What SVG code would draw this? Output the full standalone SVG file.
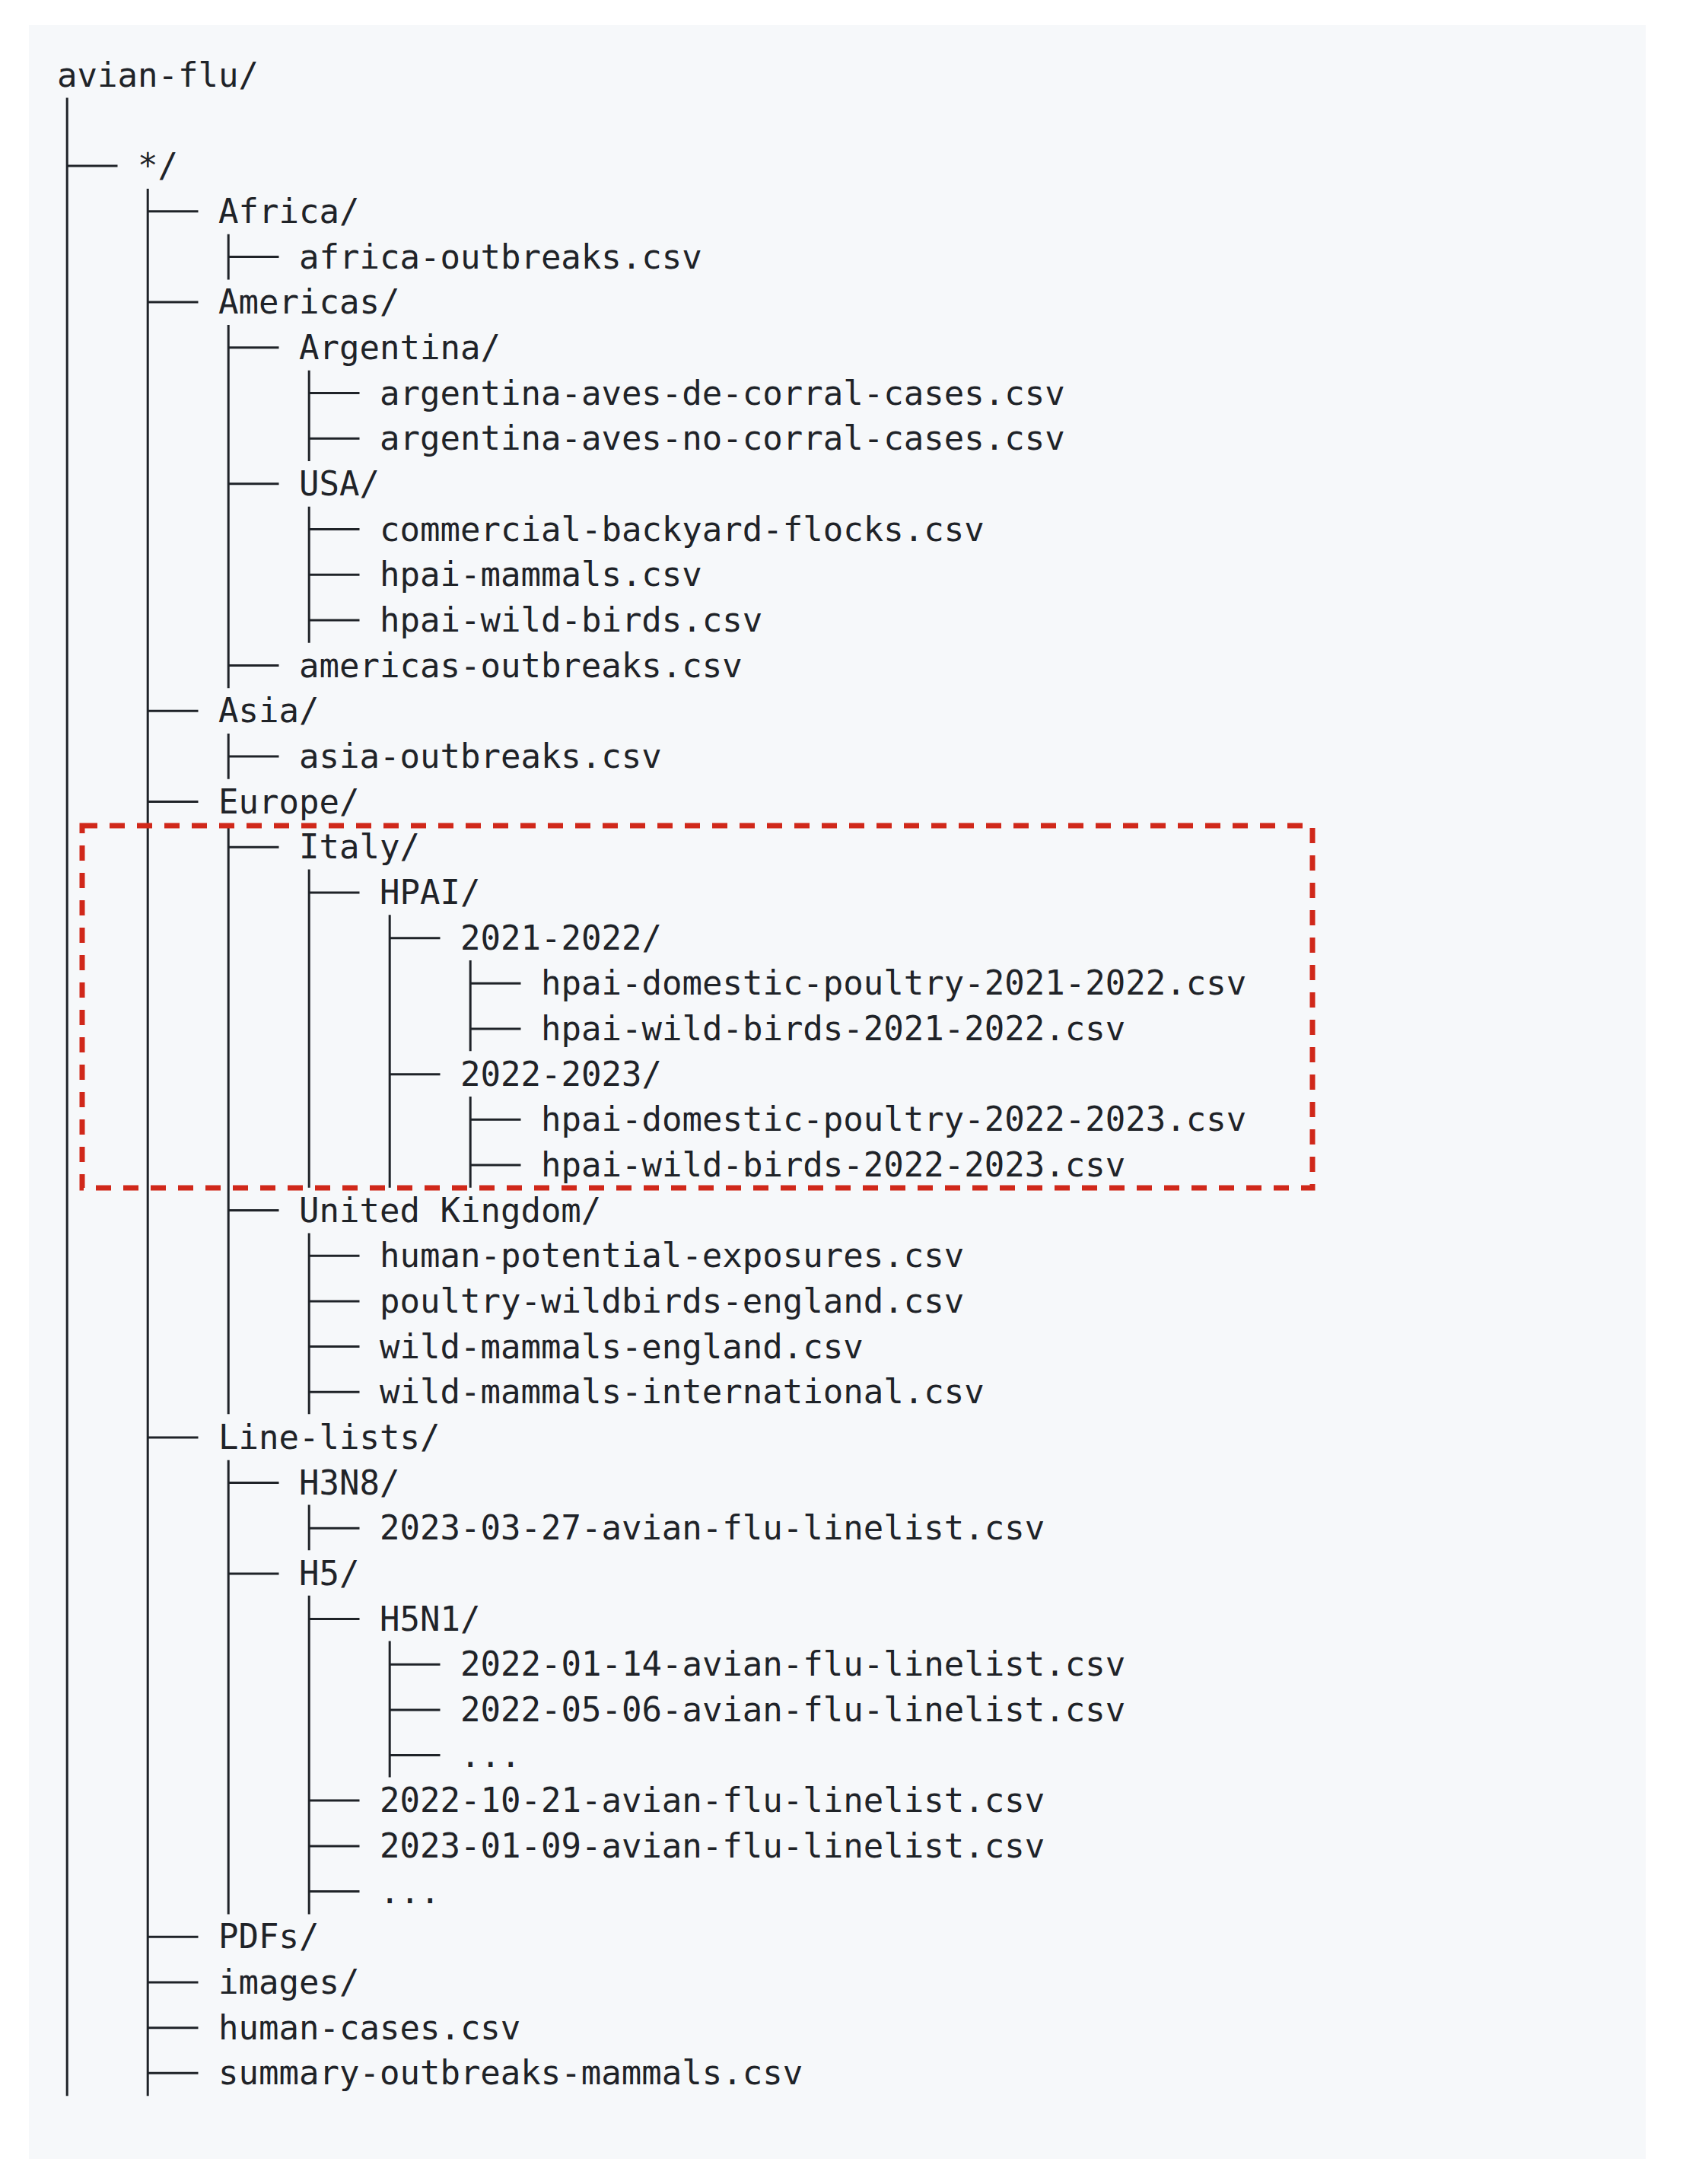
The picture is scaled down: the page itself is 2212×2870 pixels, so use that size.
<svg xmlns="http://www.w3.org/2000/svg" width="2212" height="2870" viewBox="0 0 2212 2870">
<style>
text{font-family:"DejaVu Sans Mono","Liberation Mono",monospace;font-size:44px;fill:#1f2328;white-space:pre}
.t{stroke:#1f2328;stroke-width:3;fill:none}
.hl{stroke:#d0281a;stroke-width:7;fill:none;stroke-dasharray:20 16}
</style>
<rect x="0" y="0" width="2212" height="2870" fill="#ffffff"/>
<rect x="38" y="33" width="2125" height="2804" fill="#f6f8fa"/>
<g id="connectors">
<path class="t" d="M88.2 128.6V2754.2 M194.2 248V2754.2
M300.2 307.7V367.4 M300.2 427.1V904.3 M300.2 964.1V1023.8 M300.2 1083.5V1858.2 M300.2 1918.8V2515.5
M406.2 486.8V606.1 M406.2 665.8V844.8 M406.2 1142.5V1560.8 M406.2 1620.5V1858.2 M406.2 1977.5V2037.2 M406.2 2096.8V2515.5
M512.2 1202.2V1560.8 M512.2 2156.5V2335.4
M618.2 1261.9V1381.2 M618.2 1441V1560.8"/>
<path class="t" d="M88.2 218.1H154.5
M194.2 277.8H260.5 M194.2 397.1H260.5 M194.2 934.2H260.5 M194.2 1053.6H260.5 M194.2 1888.9H260.5 M194.2 2545.3H260.5 M194.2 2605H260.5 M194.2 2664.7H260.5 M194.2 2724.3H260.5
M300.2 337.5H366.5 M300.2 456.8H366.5 M300.2 635.8H366.5 M300.2 874.6H366.5 M300.2 993.9H366.5 M300.2 1113.3H366.5 M300.2 1590.6H366.5 M300.2 1948.6H366.5 M300.2 2067.9H366.5
M406.2 516.5H472.5 M406.2 576.2H472.5 M406.2 695.5H472.5 M406.2 755.2H472.5 M406.2 814.9H472.5 M406.2 1173H472.5 M406.2 1650.2H472.5 M406.2 1709.9H472.5 M406.2 1769.6H472.5 M406.2 1829.2H472.5 M406.2 2008.3H472.5 M406.2 2127.6H472.5 M406.2 2366H472.5 M406.2 2425.9H472.5 M406.2 2485.6H472.5
M512.2 1232.7H578.5 M512.2 1411.7H578.5 M512.2 2187.3H578.5 M512.2 2247H578.5 M512.2 2306.6H578.5
M618.2 1292.3H684.5 M618.2 1352H684.5 M618.2 1471.3H684.5 M618.2 1531H684.5"/>
</g>
<g id="n0"><text x="75" y="113.8">avian-flu/</text></g>
<g id="n2"><text x="181" y="233.1">*/</text></g>
<g id="n3"><text x="287" y="292.8">Africa/</text></g>
<g id="n4"><text x="393" y="352.5">africa-outbreaks.csv</text></g>
<g id="n5"><text x="287" y="412.1">Americas/</text></g>
<g id="n6"><text x="393" y="471.8">Argentina/</text></g>
<g id="n7"><text x="499" y="531.5">argentina-aves-de-corral-cases.csv</text></g>
<g id="n8"><text x="499" y="591.2">argentina-aves-no-corral-cases.csv</text></g>
<g id="n9"><text x="393" y="650.8">USA/</text></g>
<g id="n10"><text x="499" y="710.5">commercial-backyard-flocks.csv</text></g>
<g id="n11"><text x="499" y="770.2">hpai-mammals.csv</text></g>
<g id="n12"><text x="499" y="829.9">hpai-wild-birds.csv</text></g>
<g id="n13"><text x="393" y="889.6">americas-outbreaks.csv</text></g>
<g id="n14"><text x="287" y="949.2">Asia/</text></g>
<g id="n15"><text x="393" y="1008.9">asia-outbreaks.csv</text></g>
<g id="n16"><text x="287" y="1068.6">Europe/</text></g>
<g id="n17"><text x="393" y="1128.3">Italy/</text></g>
<g id="n18"><text x="499" y="1188">HPAI/</text></g>
<g id="n19"><text x="605" y="1247.7">2021-2022/</text></g>
<g id="n20"><text x="711" y="1307.3">hpai-domestic-poultry-2021-2022.csv</text></g>
<g id="n21"><text x="711" y="1367">hpai-wild-birds-2021-2022.csv</text></g>
<g id="n22"><text x="605" y="1426.7">2022-2023/</text></g>
<g id="n23"><text x="711" y="1486.3">hpai-domestic-poultry-2022-2023.csv</text></g>
<g id="n24"><text x="711" y="1546">hpai-wild-birds-2022-2023.csv</text></g>
<g id="n25"><text x="393" y="1605.6">United Kingdom/</text></g>
<g id="n26"><text x="499" y="1665.2">human-potential-exposures.csv</text></g>
<g id="n27"><text x="499" y="1724.9">poultry-wildbirds-england.csv</text></g>
<g id="n28"><text x="499" y="1784.6">wild-mammals-england.csv</text></g>
<g id="n29"><text x="499" y="1844.2">wild-mammals-international.csv</text></g>
<g id="n30"><text x="287" y="1903.9">Line-lists/</text></g>
<g id="n31"><text x="393" y="1963.6">H3N8/</text></g>
<g id="n32"><text x="499" y="2023.3">2023-03-27-avian-flu-linelist.csv</text></g>
<g id="n33"><text x="393" y="2082.9">H5/</text></g>
<g id="n34"><text x="499" y="2142.6">H5N1/</text></g>
<g id="n35"><text x="605" y="2202.3">2022-01-14-avian-flu-linelist.csv</text></g>
<g id="n36"><text x="605" y="2262">2022-05-06-avian-flu-linelist.csv</text></g>
<g id="n37"><text x="605" y="2321.6">...</text></g>
<g id="n38"><text x="499" y="2381.3">2022-10-21-avian-flu-linelist.csv</text></g>
<g id="n39"><text x="499" y="2441">2023-01-09-avian-flu-linelist.csv</text></g>
<g id="n40"><text x="499" y="2500.6">...</text></g>
<g id="n41"><text x="287" y="2560.3">PDFs/</text></g>
<g id="n42"><text x="287" y="2620">images/</text></g>
<g id="n43"><text x="287" y="2679.7">human-cases.csv</text></g>
<g id="n44"><text x="287" y="2739.3">summary-outbreaks-mammals.csv</text></g>
<g id="highlight"><rect class="hl" x="108" y="1085" width="1617" height="476"/></g>
</svg>
